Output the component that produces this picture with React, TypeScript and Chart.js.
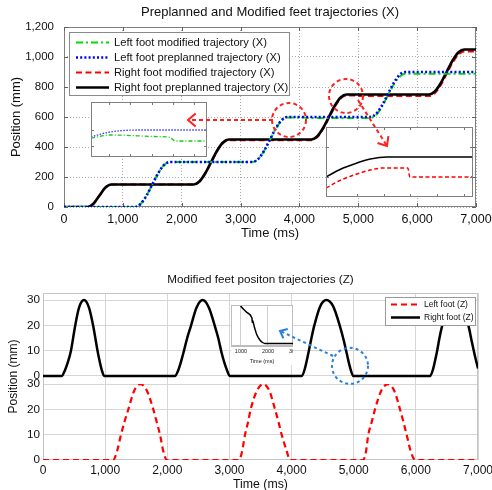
import React, { useEffect, useRef } from "react";
import { Chart, registerables } from "chart.js";

Chart.register(...registerables);

const FONT = "'Liberation Sans', Arial, Helvetica, sans-serif";

// ---------- texts ----------
const topTitle = "Preplanned and Modified feet trajectories (X)";
const bottomTitle = "Modified feet positon trajectories (Z)";
const xAxisTitle = "Time (ms)";
const yAxisTitle = "Position (mm)";
const insetAxisTitle = "Time (ms)";

// ---------- top panel (X) ----------
const topXTickValues = [0, 1000, 2000, 3000, 4000, 5000, 6000, 7000];
const topYTickValues = [0, 200, 400, 600, 800, 1000, 1200];

const leftModLabel = "Left foot modified trajectory (X)";
const leftPreLabel = "Left foot preplanned trajectory (X)";
const rightModLabel = "Right foot modified trajectory (X)";
const rightPreLabel = "Right foot preplanned trajectory (X)";

const leftModTime = [0, 1200, 1300, 1400, 1500, 1600, 1700, 1800, 3200, 3300, 3400, 3500, 3600, 3700, 3800, 4090, 4110, 5200, 5300, 5400, 5500, 5600, 5700, 5800, 7000];
const leftModX = [0, 0, 20, 75, 150, 225, 280, 300, 300, 320, 374, 448, 522, 577, 597, 597, 594, 594, 613, 667, 741, 815, 868, 888, 888];

const leftPreTime = [0, 1200, 1300, 1400, 1500, 1600, 1700, 1800, 3200, 3300, 3400, 3500, 3600, 3700, 3800, 5200, 5300, 5400, 5500, 5600, 5700, 5800, 7000];
const leftPreX = [0, 0, 20, 75, 150, 225, 280, 300, 300, 320, 375, 450, 525, 580, 600, 600, 620, 675, 750, 825, 880, 900, 900];

const rightModTime = [0, 400, 500, 600, 700, 800, 2200, 2300, 2400, 2500, 2600, 2700, 2800, 4200, 4300, 4400, 4500, 4600, 4700, 4800, 4990, 5000, 6200, 6300, 6400, 6500, 6600, 6700, 6800, 7000];
const rightModX = [0, 0, 22, 75, 128, 150, 150, 169, 223, 297, 371, 426, 446, 446, 466, 520, 594, 668, 723, 744, 744, 740, 740, 759, 813, 887, 961, 1016, 1038, 1038];

const rightPreTime = [0, 400, 500, 600, 700, 800, 2200, 2300, 2400, 2500, 2600, 2700, 2800, 4200, 4300, 4400, 4500, 4600, 4700, 4800, 6200, 6300, 6400, 6500, 6600, 6700, 6800, 7000];
const rightPreX = [0, 0, 22, 75, 128, 150, 150, 170, 225, 300, 375, 430, 450, 450, 470, 525, 600, 675, 730, 750, 750, 770, 825, 900, 975, 1030, 1050, 1050];

// zoom inset 1 (left foot, around 600 mm plateau)
const zoom1TickTimes = [3800, 3900, 4000, 4100, 4200];
const zoom1TickValues = [592, 600];
const zoom1LeftPreTime = [3716, 3805, 3946, 4260];
const zoom1LeftPreX = [596.6, 599, 600, 600];
const zoom1LeftModTime = [3716, 3805, 4026, 4087, 4110, 4260];
const zoom1LeftModX = [595.9, 597.5, 596.7, 596.3, 594.5, 594.5];

// zoom inset 2 (right foot, around 750 mm plateau)
const zoom2TickTimes = [4800, 4900, 5000, 5100, 5200];
const zoom2TickValues = [740, 755];
const zoom2RightPreTime = [4684, 4740, 4800, 4850, 4912, 5234];
const zoom2RightPreX = [740, 744, 747, 749, 750, 750];
const zoom2RightModTime = [4684, 4740, 4800, 4850, 4897, 4990, 4998, 5234];
const zoom2RightModX = [734.5, 738.5, 741.5, 743.5, 744.5, 744.5, 740, 740];

// annotations on top panel (data coordinates)
const topCircleTime = [3823, 4791];
const topCircleX = [580, 740];
const topArrowFromTime = [3551, 4995];
const topArrowFromX = [580, 713];
const topArrowToTime = [2107, 5488];
const topArrowToX = [580, 407];

// ---------- bottom panel (Z) ----------
const botXTickValues = [0, 1000, 2000, 3000, 4000, 5000, 6000, 7000];
const zTickValues = [0, 10, 20, 30];
const leftZLabel = "Left foot (Z)";
const rightZLabel = "Right foot (Z)";

const rightZTime = [0, 300, 355, 400, 450, 515, 580, 660, 740, 810, 870, 910, 945, 985,
  2120, 2180, 2258, 2320, 2377, 2470, 2570, 2670, 2768, 2820, 2876, 2950, 3010,
  4165, 4215, 4270, 4320, 4361, 4460, 4560, 4670, 4780, 4840, 4887, 4940, 4995,
  6230, 6280, 6335, 6380, 6420, 6530, 6630, 6740, 6850, 6905, 6950, 7000];
const rightZ = [0, 0, 2.4, 5.5, 10, 19.5, 27, 30, 27, 19.5, 11, 6, 2.4, 0,
  0, 2.5, 9, 15, 19.5, 27, 30, 27, 19.5, 15, 9, 3, 0,
  0, 3, 9, 15, 19.5, 27.5, 30, 27.5, 19.5, 14, 9, 3.5, 0,
  0, 3, 9, 15, 19.5, 27.5, 30, 27.5, 19.5, 13, 8, 3];

const leftZTime = [0, 1130, 1186, 1255, 1310, 1373, 1470, 1565, 1670, 1775, 1830, 1883, 1936, 1995,
  3150, 3200, 3251, 3300, 3342, 3445, 3545, 3640, 3734, 3790, 3841, 3922, 3977,
  5150, 5195, 5235, 5290, 5342, 5445, 5550, 5650, 5745, 5800, 5852, 5917, 5987, 7000];
const leftZ = [0, 0, 3, 10, 15, 20, 27.5, 30, 27.5, 20, 15, 10, 3.5, 0,
  0, 3, 10, 15, 20, 27.5, 30, 27.5, 20, 15, 10, 3.5, 0,
  0, 3, 10, 15, 20, 27.5, 30, 27.5, 20, 15, 10, 3.5, 0, 0];

// zoom inset 3 (right foot Z landing)
const zoom3TickTimes = [1000, 2000, 3000];
const zoom3TickLabels = ["1000", "2000", "3000"];
const zoom3RightZTime = [900, 989, 1200, 1397, 1410, 1419, 1428, 1500, 1582, 1700, 1800, 1889, 2926];
const zoom3RightZ = [8.2, 7.5, 6.3, 5.2, 4.9, 4.2, 4.6, 3.2, 1.8, 0.7, 0.2, 0, 0];

// annotation on bottom panel (data coordinates, right-foot axis)
const botCircleTime = [4940];
const botCircleZ = [4];
const botArrowFromTime = [4667];
const botArrowFromZ = [7.9];
const botArrowToTime = [3814];
const botArrowToZ = [17.8];

// ---------- styles ----------
const S = {
  leftMod: { color: "#00dd00", width: 2, dash: [7, 3, 2, 3] },
  leftPre: { color: "#0000ff", width: 2.6, dash: [2, 2.2] },
  rightMod: { color: "#ff0000", width: 2.2, dash: [6, 3.5] },
  rightPre: { color: "#000000", width: 2.6, dash: [] as number[] },
  leftZ: { color: "#ff0000", width: 2.2, dash: [6, 4] },
  rightZ: { color: "#000000", width: 2.5, dash: [] as number[] },
};

function pts(t: number[], v: number[]) {
  return t.map((x, i) => ({ x, y: v[i] }));
}

function lineDs(label: string, t: number[], v: number[], st: any, extra: any = {}) {
  return {
    label,
    data: pts(t, v),
    borderColor: st.color,
    borderWidth: st.width,
    borderDash: st.dash,
    pointRadius: 0,
    fill: false,
    cubicInterpolationMode: "monotone",
    ...extra,
  };
}

function sample(ctx: CanvasRenderingContext2D, x1: number, x2: number, y: number, st: any) {
  ctx.save();
  ctx.strokeStyle = st.color;
  ctx.lineWidth = st.width;
  ctx.setLineDash(st.dash);
  ctx.beginPath();
  ctx.moveTo(x1, y);
  ctx.lineTo(x2, y);
  ctx.stroke();
  ctx.restore();
}

function text(ctx: CanvasRenderingContext2D, s: string, x: number, y: number, size: number, align: CanvasTextAlign = "center", rot = 0) {
  ctx.save();
  ctx.font = `${size}px ${FONT}`;
  ctx.fillStyle = "#111";
  ctx.textAlign = align;
  ctx.textBaseline = "middle";
  ctx.translate(x, y);
  if (rot) ctx.rotate(rot);
  ctx.fillText(s, 0, 0);
  ctx.restore();
}

function arrow(ctx: CanvasRenderingContext2D, x1: number, y1: number, x2: number, y2: number, color: string, dash: number[], head: number) {
  ctx.save();
  ctx.strokeStyle = color;
  ctx.lineWidth = 2;
  ctx.setLineDash(dash);
  ctx.beginPath();
  ctx.moveTo(x1, y1);
  ctx.lineTo(x2, y2);
  ctx.stroke();
  const a = Math.atan2(y2 - y1, x2 - x1);
  ctx.setLineDash([]);
  ctx.beginPath();
  ctx.moveTo(x2 - head * Math.cos(a - 0.7), y2 - head * Math.sin(a - 0.7));
  ctx.lineTo(x2, y2);
  ctx.lineTo(x2 - head * Math.cos(a + 0.7), y2 - head * Math.sin(a + 0.7));
  ctx.stroke();
  ctx.restore();
}

function circle(ctx: CanvasRenderingContext2D, x: number, y: number, r: number, color: string, dash: number[]) {
  ctx.save();
  ctx.strokeStyle = color;
  ctx.lineWidth = 2;
  ctx.setLineDash(dash);
  ctx.beginPath();
  ctx.arc(x, y, r, 0, Math.PI * 2);
  ctx.stroke();
  ctx.restore();
}

const whiteBg = {
  id: "whiteBg",
  beforeDraw(chart: any) {
    const { ctx, width, height } = chart;
    ctx.save();
    ctx.fillStyle = "#fff";
    ctx.fillRect(0, 0, width, height);
    ctx.restore();
  },
};

function innerTicks(ctx: CanvasRenderingContext2D, chart: any, xs: number[], ys: number[], len: number, color: string) {
  const a = chart.chartArea;
  const sx = chart.scales.x;
  const sy = chart.scales.y;
  ctx.save();
  ctx.strokeStyle = color;
  ctx.lineWidth = 1;
  ctx.setLineDash([]);
  ctx.beginPath();
  xs.forEach((v) => {
    const px = Math.round(sx.getPixelForValue(v)) + 0.5;
    ctx.moveTo(px, a.bottom);
    ctx.lineTo(px, a.bottom - len);
    ctx.moveTo(px, a.top);
    ctx.lineTo(px, a.top + len);
  });
  ys.forEach((v) => {
    const py = Math.round(sy.getPixelForValue(v)) + 0.5;
    ctx.moveTo(a.left, py);
    ctx.lineTo(a.left + len, py);
    ctx.moveTo(a.right, py);
    ctx.lineTo(a.right - len, py);
  });
  ctx.stroke();
  ctx.restore();
}

const topDecor = {
  id: "topDecor",
  beforeDatasetsDraw(chart: any) {
    const { ctx, chartArea: a } = chart;
    ctx.save();
    ctx.strokeStyle = "#808080";
    ctx.lineWidth = 1;
    ctx.strokeRect(a.left + 0.5, a.top + 0.5, a.right - a.left - 1, a.bottom - a.top - 1);
    ctx.restore();
    innerTicks(ctx, chart, topXTickValues, topYTickValues, 4, "#606060");
  },
  afterDatasetsDraw(chart: any) {
    const { ctx, chartArea: a } = chart;
    const bx = a.left + 5;
    const by = a.top + 5;
    ctx.save();
    ctx.fillStyle = "#fff";
    ctx.fillRect(bx, by, 220, 63);
    ctx.strokeStyle = "#8a8a8a";
    ctx.lineWidth = 1;
    ctx.strokeRect(bx + 0.5, by + 0.5, 220, 63);
    ctx.restore();
    const items = [
      [leftModLabel, S.leftMod],
      [leftPreLabel, S.leftPre],
      [rightModLabel, S.rightMod],
      [rightPreLabel, S.rightPre],
    ] as any[];
    items.forEach(([lab, st], i) => {
      const y = by + 10.5 + i * 15;
      sample(ctx, bx + 7, bx + 40, y, st);
      text(ctx, lab, bx + 45, y, 11.2, "left");
    });
  },
  afterDraw(chart: any) {
    const { ctx, chartArea: a } = chart;
    const cx = (a.left + a.right) / 2;
    text(ctx, topTitle, cx, 12.5, 13);
    text(ctx, xAxisTitle, cx, 233, 13);
    text(ctx, yAxisTitle, 16, (a.top + a.bottom) / 2, 13, "center", -Math.PI / 2);
  },
};

const botDecor = {
  id: "botDecor",
  beforeDatasetsDraw(chart: any) {
    const { ctx, chartArea: a } = chart;
    ctx.save();
    ctx.strokeStyle = "#c4c4c4";
    ctx.lineWidth = 1;
    ctx.strokeRect(a.left + 0.5, a.top + 0.5, a.right - a.left - 1, a.bottom - a.top - 1);
    ctx.restore();
  },
  afterDatasetsDraw(chart: any) {
    const { ctx, chartArea: a } = chart;
    const bw = 90;
    const bx = a.right - 3 - bw;
    const by = a.top + 4;
    ctx.save();
    ctx.fillStyle = "#fff";
    ctx.fillRect(bx, by, bw, 28);
    ctx.strokeStyle = "#9a9a9a";
    ctx.lineWidth = 1;
    ctx.strokeRect(bx + 0.5, by + 0.5, bw, 28);
    ctx.restore();
    const items = [
      [leftZLabel, S.leftZ],
      [rightZLabel, S.rightZ],
    ] as any[];
    items.forEach(([lab, st], i) => {
      const y = by + 7.5 + i * 13;
      sample(ctx, bx + 6, bx + 35, y, st);
      text(ctx, lab, bx + 39, y, 8.5, "left");
    });
  },
  afterDraw(chart: any) {
    const { ctx, chartArea: a } = chart;
    const cx = (a.left + a.right) / 2;
    text(ctx, bottomTitle, cx, 30, 11.7);
    text(ctx, xAxisTitle, cx, 235, 12.3);
    text(ctx, yAxisTitle, 14, (a.top + a.bottom) / 2, 12, "center", -Math.PI / 2);
  },
};

const insetFrame = (xs: number[], ys: number[]) => ({
  id: "insetFrame",
  afterDatasetsDraw(chart: any) {
    const { ctx, chartArea: a } = chart;
    innerTicks(ctx, chart, xs, ys, 3, "#777");
    ctx.save();
    ctx.strokeStyle = "#808080";
    ctx.lineWidth = 1;
    ctx.strokeRect(a.left + 0.5, a.top + 0.5, a.right - a.left - 1, a.bottom - a.top - 1);
    ctx.restore();
  },
});

function fixTicks(values: number[]) {
  return (s: any) => {
    s.ticks = values.map((v) => ({ value: v }));
  };
}

function fixHeight(h: number) {
  return (s: any) => {
    s.height = h;
    s.paddingLeft = 0;
    s.paddingRight = 0;
  };
}

function fixWidth(w: number) {
  return (s: any) => {
    s.width = w;
    s.paddingTop = 0;
    s.paddingBottom = 0;
  };
}

export default function App() {
  const topRef = useRef<HTMLCanvasElement>(null);
  const botRef = useRef<HTMLCanvasElement>(null);
  const in1Ref = useRef<HTMLCanvasElement>(null);
  const in2Ref = useRef<HTMLCanvasElement>(null);
  const in3Ref = useRef<HTMLCanvasElement>(null);
  const ovRef = useRef<HTMLCanvasElement>(null);

  useEffect(() => {
    const charts: Chart[] = [];
    const tickFont = (size: number) => ({ family: FONT, size });

    const top = new Chart(topRef.current as HTMLCanvasElement, {
      type: "line",
      data: {
        datasets: [
          lineDs(leftPreLabel, leftPreTime, leftPreX, S.leftPre),
          lineDs(leftModLabel, leftModTime, leftModX, S.leftMod),
          lineDs(rightPreLabel, rightPreTime, rightPreX, S.rightPre),
          lineDs(rightModLabel, rightModTime, rightModX, S.rightMod),
        ] as any,
      },
      options: {
        responsive: false,
        animation: false,
        devicePixelRatio: 1,
        locale: "en-US",
        layout: { padding: { top: 27, right: 16, left: 0, bottom: 0 } },
        plugins: { legend: { display: false }, tooltip: { enabled: false }, title: { display: false } },
        scales: {
          x: {
            type: "linear",
            min: 0,
            max: 7000,
            afterBuildTicks: fixTicks(topXTickValues),
            ticks: { font: tickFont(12.5), color: "#111", padding: 5, maxRotation: 0, autoSkip: false },
            grid: { color: "#a8a8a8", drawTicks: false },
            border: { display: false, dash: [1, 2] },
            afterFit: fixHeight(43),
          },
          y: {
            type: "linear",
            min: 0,
            max: 1200,
            afterBuildTicks: fixTicks(topYTickValues),
            ticks: { font: tickFont(11.5), color: "#111", padding: 10, autoSkip: false },
            grid: { color: "#a8a8a8", drawTicks: false },
            border: { display: false, dash: [1, 2] },
            afterFit: fixWidth(64),
          },
        },
      } as any,
      plugins: [whiteBg, topDecor],
    });
    charts.push(top);

    const bot = new Chart(botRef.current as HTMLCanvasElement, {
      type: "line",
      data: {
        datasets: [
          lineDs(leftZLabel, leftZTime, leftZ, S.leftZ, { yAxisID: "yL" }),
          lineDs(rightZLabel, rightZTime, rightZ, S.rightZ, { yAxisID: "yR" }),
        ] as any,
      },
      options: {
        responsive: false,
        animation: false,
        devicePixelRatio: 1,
        locale: "en-US",
        layout: { padding: { top: 43, right: 14, left: 0, bottom: 0 } },
        plugins: { legend: { display: false }, tooltip: { enabled: false }, title: { display: false } },
        scales: {
          x: {
            type: "linear",
            min: 0,
            max: 7000,
            afterBuildTicks: fixTicks(botXTickValues),
            ticks: { font: tickFont(12), color: "#111", padding: 3, maxRotation: 0, autoSkip: false },
            grid: { color: "#d6d6d6", drawTicks: false },
            border: { display: false },
            afterFit: fixHeight(30),
          },
          yL: {
            type: "linear",
            position: "left",
            stack: "z",
            stackWeight: 30,
            min: 0,
            max: 30,
            afterBuildTicks: fixTicks(zTickValues),
            ticks: { font: tickFont(11.7), color: "#111", padding: 3, autoSkip: false },
            grid: { color: "#d6d6d6", drawTicks: false },
            border: { display: false },
            afterFit: fixWidth(43),
          },
          yR: {
            type: "linear",
            position: "left",
            stack: "z",
            stackWeight: 36,
            min: -3.2,
            max: 32.8,
            afterBuildTicks: fixTicks(zTickValues),
            ticks: { font: tickFont(11.7), color: "#111", padding: 3, autoSkip: false },
            grid: { color: "#d6d6d6", drawTicks: false },
            border: { display: false },
            afterFit: fixWidth(43),
          },
        },
      } as any,
      plugins: [whiteBg, botDecor],
    });
    charts.push(bot);

    const in1 = new Chart(in1Ref.current as HTMLCanvasElement, {
      type: "line",
      data: {
        datasets: [
          lineDs(leftPreLabel, zoom1LeftPreTime, zoom1LeftPreX, { color: "#3333ff", width: 1.3, dash: [1.5, 1.5] }),
          lineDs(leftModLabel, zoom1LeftModTime, zoom1LeftModX, { color: "#11cc11", width: 1.3, dash: [4, 2, 1, 2] }),
        ] as any,
      },
      options: {
        responsive: false,
        animation: false,
        devicePixelRatio: 1,
        layout: { padding: 0 },
        plugins: { legend: { display: false }, tooltip: { enabled: false } },
        scales: {
          x: { type: "linear", min: 3716, max: 4260, display: false },
          y: { type: "linear", min: 586.5, max: 614, display: false },
        },
      } as any,
      plugins: [whiteBg, insetFrame(zoom1TickTimes, zoom1TickValues)],
    });
    charts.push(in1);

    const in2 = new Chart(in2Ref.current as HTMLCanvasElement, {
      type: "line",
      data: {
        datasets: [
          lineDs(rightPreLabel, zoom2RightPreTime, zoom2RightPreX, { color: "#000", width: 1.5, dash: [] }),
          lineDs(rightModLabel, zoom2RightModTime, zoom2RightModX, { color: "#ff0000", width: 1.5, dash: [4, 2.5] }),
        ] as any,
      },
      options: {
        responsive: false,
        animation: false,
        devicePixelRatio: 1,
        layout: { padding: 0 },
        plugins: { legend: { display: false }, tooltip: { enabled: false } },
        scales: {
          x: { type: "linear", min: 4684, max: 5234, display: false },
          y: { type: "linear", min: 730, max: 765, display: false },
        },
      } as any,
      plugins: [whiteBg, insetFrame(zoom2TickTimes, zoom2TickValues)],
    });
    charts.push(in2);

    const in3 = new Chart(in3Ref.current as HTMLCanvasElement, {
      type: "line",
      data: {
        datasets: [
          lineDs(rightZLabel, zoom3RightZTime, zoom3RightZ, { color: "#000", width: 1.5, dash: [] }),
        ] as any,
      },
      options: {
        responsive: false,
        animation: false,
        devicePixelRatio: 1,
        layout: { padding: { top: 1, left: 0, right: 0, bottom: 0 } },
        plugins: { legend: { display: false }, tooltip: { enabled: false } },
        scales: {
          x: {
            type: "linear",
            min: 630,
            max: 2926,
            afterBuildTicks: fixTicks(zoom3TickTimes),
            ticks: {
              font: tickFont(5.5),
              color: "#222",
              padding: 2,
              maxRotation: 0,
              autoSkip: false,
              callback: (_v: any, i: number) => zoom3TickLabels[i],
            },
            grid: { color: "#cfcfcf", drawTicks: false },
            border: { display: true, color: "#bbb" },
            title: { display: true, text: insetAxisTitle, font: tickFont(5.5), color: "#222", padding: 0 },
            afterFit: fixHeight(19),
          },
          y: { type: "linear", min: -0.5, max: 7.5, display: false },
        },
      } as any,
      plugins: [
        whiteBg,
        {
          id: "in3Frame",
          beforeDatasetsDraw(chart: any) {
            const { ctx, chartArea: a } = chart;
            ctx.save();
            ctx.strokeStyle = "#bdbdbd";
            ctx.lineWidth = 1;
            ctx.strokeRect(a.left + 0.5, a.top - 0.5, a.right - a.left - 1, a.bottom - a.top);
            ctx.restore();
          },
        },
      ],
    });
    charts.push(in3);

    // overlay annotations
    const ov = (ovRef.current as HTMLCanvasElement).getContext("2d") as CanvasRenderingContext2D;
    ov.clearRect(0, 0, 492, 490);
    const tx = top.scales.x;
    const ty = top.scales.y;
    topCircleTime.forEach((t, i) => {
      circle(ov, tx.getPixelForValue(t), ty.getPixelForValue(topCircleX[i]), 17, "#ff2020", [4, 3]);
    });
    topArrowFromTime.forEach((t, i) => {
      arrow(
        ov,
        tx.getPixelForValue(t),
        ty.getPixelForValue(topArrowFromX[i]),
        tx.getPixelForValue(topArrowToTime[i]),
        ty.getPixelForValue(topArrowToX[i]),
        "#ff2020",
        [4, 3],
        10
      );
    });
    const bx = bot.scales.x;
    const by = (bot.scales as any).yR;
    const off = 250;
    botCircleTime.forEach((t, i) => {
      circle(ov, bx.getPixelForValue(t), by.getPixelForValue(botCircleZ[i]) + off, 18, "#2a7fd6", [3, 3]);
    });
    botArrowFromTime.forEach((t, i) => {
      arrow(
        ov,
        bx.getPixelForValue(t),
        by.getPixelForValue(botArrowFromZ[i]) + off,
        bx.getPixelForValue(botArrowToTime[i]),
        by.getPixelForValue(botArrowToZ[i]) + off,
        "#2a7fd6",
        [3, 3],
        8
      );
    });

    return () => {
      charts.forEach((c) => c.destroy());
    };
  }, []);

  const abs = (l: number, t: number, w: number, h: number, z: number): any => ({
    position: "absolute",
    left: l,
    top: t,
    width: w,
    height: h,
    zIndex: z,
    display: "block",
  });

  return (
    <div style={{ position: "absolute", left: 0, top: 0, width: 492, height: 490, background: "#fff", overflow: "hidden" }}>
      <canvas ref={topRef} width={492} height={250} style={abs(0, 0, 492, 250, 1)} />
      <canvas ref={botRef} width={492} height={240} style={abs(0, 250, 492, 240, 1)} />
      <canvas ref={in1Ref} width={116} height={55} style={abs(91, 102, 116, 55, 2)} />
      <canvas ref={in2Ref} width={147} height={70} style={abs(326, 127, 147, 70, 2)} />
      <canvas ref={in3Ref} width={62} height={60} style={abs(231, 305, 62, 60, 2)} />
      <canvas ref={ovRef} width={492} height={490} style={abs(0, 0, 492, 490, 3)} />
    </div>
  );
}
